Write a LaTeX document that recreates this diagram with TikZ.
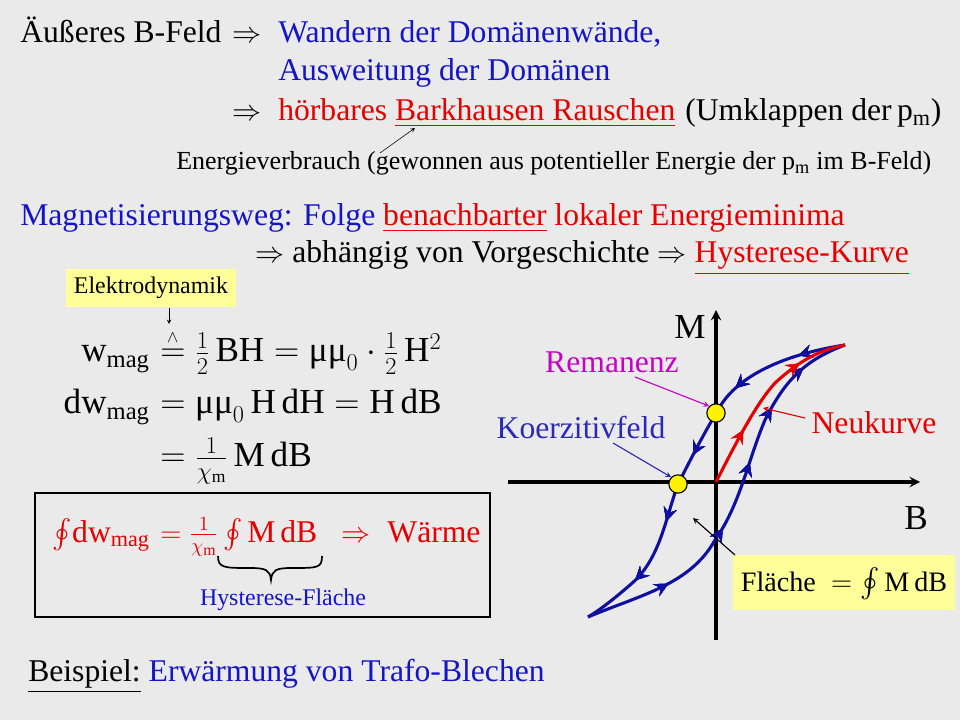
\documentclass[tikz,border=0pt]{standalone}
\usepackage{fontspec}
\setmainfont{Liberation Serif}
\usepackage{amsmath}
\usetikzlibrary{decorations.markings}
\definecolor{bgray}{RGB}{234,234,234}
\definecolor{tblue}{RGB}{20,20,200}
\definecolor{tred}{RGB}{230,0,0}
\definecolor{tmag}{RGB}{200,0,200}
\definecolor{lyellow}{RGB}{255,255,153}
\newcommand{\mumu}{\text{μμ}}
\tikzset{
  txt/.style={anchor=base west,inner sep=0pt,font=\fontsize{22.5}{26}\selectfont},
  frm/.style={anchor=base west,inner sep=0pt,font=\fontsize{25}{28}\selectfont},
  small/.style={anchor=base west,inner sep=0pt,font=\fontsize{18.5}{21}\selectfont},
  tiny/.style={anchor=center,inner sep=0pt,font=\fontsize{17}{19}\selectfont},
  loop/.style={line width=2.2pt,draw=tblue!80!black,line join=round},
  midarrows/.style={postaction={decorate},decoration={markings,
    mark=at position #1 with {\arrow[scale=1.3]{>}}}},
}
\begin{document}
\begin{tikzpicture}[x=0.025cm,y=-0.025cm,>=stealth]
\fill[bgray] (0,0) rectangle (960,720);
\useasboundingbox (0,0) rectangle (960,720);

% Text at the top
\node[txt] (l1) at (20,43) {Äußeres B-Feld};
\node[txt] (l1a) at (232,43) {$\Rightarrow$};
\node[txt,text=tblue] (l1b) at (278,43) {Wandern der Domänenwände,};
\node[txt,text=tblue] (l2) at (278,81) {Ausweitung der Domänen};
\node[txt] (l3a) at (232,121) {$\Rightarrow$};
\node[txt,text=tred] (l3b) at (278,121) {hörbares \underline{Barkhausen Rauschen}};
\node[txt] (l3c) at (685,121) {(Umklappen der\,p\textsubscript{m})};
\node[small] (l4) at (176,170) {Energieverbrauch (gewonnen aus potentieller Energie der p\textsubscript{m} im B-Feld)};
\coordinate (l4a) at (380,153);
\coordinate (l4b) at (415,128);
\draw[->] (l4a) -- (l4b);
\node[txt,text=tblue] (l5) at (20,226) {Magnetisierungsweg: Folge \textcolor{tred}{\underline{benachbarter}} \textcolor{tred}{lokaler Energieminima}};
\node[txt] (l6) at (255,263) {$\Rightarrow$ abhängig von Vorgeschichte $\Rightarrow$ \textcolor{tred}{\underline{Hysterese-Kurve}}};

% Formulas
\node[tiny,fill=lyellow,inner sep=6pt] (edyn) at (151,288) {Elektrodynamik};
\node[frm,anchor=base east] (f1l) at (150,362) {w\textsubscript{mag}};
\node[frm] (f1r) at (160,362) {$\overset{\scriptscriptstyle\wedge}{=}\tfrac12\,\mathrm{BH}=\mumu_0\cdot\tfrac12\,\mathrm{H}^2$};
\draw[->] (edyn.south -| 169,0) -- (169,324);
\node[frm,anchor=base east] (f2l) at (150,414) {dw\textsubscript{mag}};
\node[frm] (f2r) at (160,414) {$=\mumu_0\,\mathrm{H\,dH}=\mathrm{H\,dB}$};
\node[frm] (f3r) at (160,467) {$=\tfrac{1}{\chi_{\mathrm m}}\,\mathrm{M\,dB}$};
\draw[very thick] (35,493) rectangle (490,617);
\node[txt,text=tred,anchor=base east] (f4l) at (150,542) {$\oint$dw\textsubscript{mag}};
\node[txt,text=tred] (f4r) at (160,542) {$=\tfrac{1}{\chi_{\mathrm m}}\oint\mathrm{M\,dB}\;\;\Rightarrow$\; Wärme};
\draw[very thick] (218,556) .. controls (218,568) and (224,568) .. (250,568)
  .. controls (266,568) and (270,570) .. (271,580)
  .. controls (272,570) and (276,568) .. (292,568)
  .. controls (318,568) and (322,568) .. (322,556);
\node[tiny,text=tblue] (hfl) at (283,600) {Hysterese-Fläche};

% Hysteresis
\draw[line width=2.2pt,->] (716,640) -- (716,310) coordinate (mtop);
\node[font=\fontsize{25}{28}\selectfont] (M) at (690,327) {M};
\draw[line width=2.2pt,->] (508,482) -- (920,482) coordinate (bend);
\node[font=\fontsize{25}{28}\selectfont] (B) at (916,518) {B};
\draw[loop,midarrows/.list={0.12,0.3,0.5,0.68,0.85}]
  (845,345) .. controls (780,355) and (735,378) .. (718,410)
  .. controls (700,440) and (688,465) .. (678,484)
  .. controls (665,520) and (660,560) .. (630,585)
  .. controls (615,598) and (600,610) .. (588,617);
\draw[loop,midarrows/.list={0.22,0.42,0.6,0.75,0.88}]
  (588,617) .. controls (640,595) and (690,585) .. (715,540)
  .. controls (740,505) and (748,460) .. (765,420)
  .. controls (785,380) and (805,360) .. (845,345);
\draw[line width=2.2pt,tred,midarrows/.list={0.3,0.75}]
  (716,482) .. controls (735,445) and (755,405) .. (775,383)
  .. controls (800,360) and (820,350) .. (845,345);
\node[circle,draw,thick,fill=yellow,inner sep=0pt,minimum size=13pt] (rem) at (716,413) {};
\node[circle,draw,thick,fill=yellow,inner sep=0pt,minimum size=13pt] (koe) at (678,484) {};
\node[txt,anchor=center,text=tmag] (remt) at (612,362) {Remanenz};
\node[txt,anchor=center,text=tblue!80!gray] (koet) at (581,428) {Koerzitivfeld};
\node[txt,anchor=center,text=tred] (neut) at (874,423) {Neukurve};
\draw[->,thick,tmag] (635,377) -- (rem.north west);
\draw[->,thick,tblue!80!gray] (613,443) -- (koe.north west);
\draw[->,thick,tred] (805,418) -- (763,408);
\fill[lyellow] (733,555) rectangle (955,610);
\node[small,anchor=center,font=\fontsize{20}{22}\selectfont] (fl) at (844,584) {Fläche $\;=\oint\mathrm{M\,dB}$};
\draw[->,thick] (735,555) -- (693,518);

\node[txt,text=tblue] (bsp) at (28,681) {\textcolor{black}{\underline{Beispiel:}} Erwärmung von Trafo-Blechen};
\end{tikzpicture}
\end{document}
